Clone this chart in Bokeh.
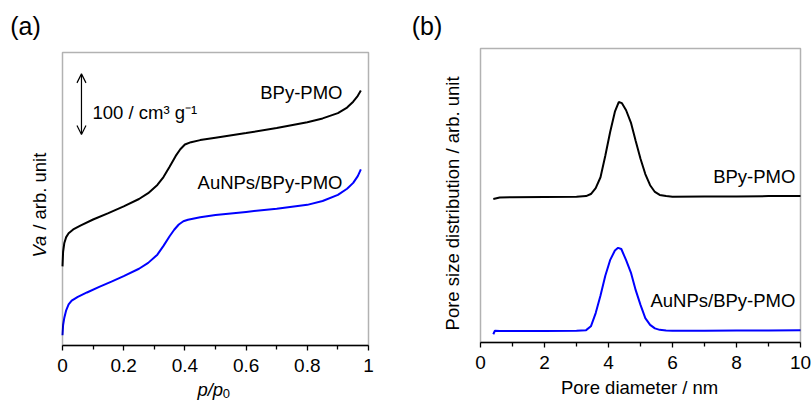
import math
from bokeh.plotting import figure
from bokeh.models import Range1d, FixedTicker, Label, Arrow, OpenHead, BoxAnnotation
from bokeh.layouts import row
from bokeh.embed import file_html
from bokeh.resources import INLINE

FONT = "Liberation Sans"

# ---------------- data: panel (a) nitrogen isotherms (arb. offset units) ----
pp0_bpy = [0, 0.002, 0.006, 0.012, 0.02, 0.035, 0.06, 0.1, 0.15, 0.2, 0.25, 0.28,
           0.31, 0.33, 0.35, 0.37, 0.385, 0.40, 0.42, 0.45, 0.5, 0.6, 0.7, 0.8,
           0.85, 0.9, 0.93, 0.95, 0.965, 0.975]
va_bpy = [27, 32, 35, 37, 38.3, 39.6, 41, 43, 45.2, 47.5, 50, 52, 54.8, 57.5, 61,
          64.7, 67, 68.6, 69.4, 70.1, 70.9, 72.5, 74.2, 76.2, 77.5, 79.3, 81.2,
          83.2, 85.2, 87]
pp0_au = [0, 0.002, 0.006, 0.012, 0.02, 0.03, 0.05, 0.08, 0.12, 0.16, 0.2, 0.25,
          0.28, 0.31, 0.33, 0.35, 0.365, 0.38, 0.395, 0.41, 0.45, 0.5, 0.6, 0.7,
          0.8, 0.85, 0.9, 0.93, 0.95, 0.965, 0.975]
va_au = [3.5, 7, 9.5, 12, 14, 15.3, 16.6, 18.1, 20, 21.8, 23.7, 26.2, 28.2, 31, 34,
         37.3, 39.5, 41.3, 42.4, 42.9, 43.8, 44.5, 45.6, 46.7, 48, 49.3, 51.4, 53.5,
         55.5, 57.8, 60.1]

# ---------------- data: panel (b) pore size distributions -------------------
d_bpy = [0.4, 0.6, 1, 2, 3, 3.3, 3.45, 3.6, 3.75, 3.9, 4.05, 4.2, 4.32, 4.42, 4.55,
         4.7, 4.85, 5.0, 5.15, 5.3, 5.45, 5.6, 5.8, 6.0, 7, 8, 9, 10]
psd_bpy = [48.8, 49.3, 49.4, 49.5, 49.6, 49.8, 50.5, 52.5, 56.2, 63.5, 71.5, 78.5,
           81.8, 81.4, 79.0, 74.8, 68.5, 62.5, 57.3, 53.5, 51.2, 50.2, 49.8, 49.6,
           49.7, 49.7, 49.8, 49.8]
d_au = [0.4, 0.45, 0.6, 1, 2, 3, 3.3, 3.45, 3.6, 3.75, 3.9, 4.05, 4.2, 4.3, 4.4,
        4.55, 4.7, 4.85, 5.0, 5.15, 5.3, 5.45, 5.6, 5.8, 6, 7, 8, 9, 10]
psd_au = [2.8, 4.0, 3.9, 3.9, 3.9, 4.0, 4.2, 5.5, 10, 16, 22.7, 28, 31.3, 32.2, 31.8,
          28, 23.8, 17.8, 12.8, 8.3, 6.0, 4.8, 4.3, 4.1, 4.0, 4.0, 4.1, 4.1, 4.2]

x_lim_a = (0, 1)
x_lim_b = (0, 10)
y_lim = (0, 100)
ticks_a = [0, 0.2, 0.4, 0.6, 0.8, 1]
tick_labels_a = ["0", "0.2", "0.4", "0.6", "0.8", "1"]
minor_a = [0.1, 0.3, 0.5, 0.7, 0.9]
ticks_b = [0, 2, 4, 6, 8, 10]
minor_b = [1, 3, 5, 7, 9]

name_bpy = "BPy-PMO"
name_au = "AuNPs/BPy-PMO"

H = 401  # canvas height


def make_panel(width, frame_px, x_lim, ticks, minor, overrides=None):
    """frame_px = (left, right, top, bottom) of the plot box in canvas pixels."""
    l, r, t, b = frame_px
    sx = (r - l) / (x_lim[1] - x_lim[0])
    sy = (b - t) / (y_lim[1] - y_lim[0])
    xr = Range1d(x_lim[0] - l / sx, x_lim[1] + (width - r) / sx)
    yr = Range1d(y_lim[0] - (H - b) / sy, y_lim[1] + t / sy)
    p = figure(width=width, height=H, output_backend="svg", toolbar_location=None,
               x_range=xr, y_range=yr, min_border=0, min_border_left=0,
               min_border_right=0, min_border_top=0, min_border_bottom=0)
    p.yaxis.visible = False
    p.xgrid.visible = False
    p.ygrid.visible = False
    p.outline_line_color = None
    p.background_fill_color = "white"
    p.border_fill_color = "white"
    ax = p.xaxis[0]
    ax.fixed_location = y_lim[0]
    ax.bounds = x_lim
    ax.ticker = FixedTicker(ticks=ticks, minor_ticks=minor)
    if overrides:
        ax.major_label_overrides = overrides
    ax.axis_line_color = "black"
    ax.axis_line_width = 1.5
    ax.major_tick_in = 0
    ax.major_tick_out = 5
    ax.minor_tick_in = 0
    ax.minor_tick_out = 4
    ax.major_tick_line_color = "black"
    ax.minor_tick_line_color = "black"
    ax.major_tick_line_width = 1.3
    ax.minor_tick_line_width = 1.3
    ax.major_label_text_font = FONT
    ax.major_label_text_font_size = "19px"
    ax.major_label_text_color = "black"
    ax.major_label_standoff = 8
    p.add_layout(BoxAnnotation(left=x_lim[0], right=x_lim[1], bottom=y_lim[0],
                               top=y_lim[1], fill_alpha=0, line_color="black",
                               line_width=1.5, level="overlay"))
    return p


def text(p, x, y, s, size="18.5px", align="left", baseline="middle", angle=0,
         style="normal"):
    p.add_layout(Label(x=x, y=y, text=s, text_align=align, text_baseline=baseline,
                       angle=angle, text_font=FONT, text_font_size=size,
                       text_font_style=style, text_color="black"))


# ---------------- panel (a) ----------------
pa = make_panel(400, (62, 368, 52, 345), x_lim_a, ticks_a, minor_a,
                dict(zip(ticks_a, tick_labels_a)))
pa.line(pp0_bpy, va_bpy, line_color="black", line_width=2)
pa.line(pp0_au, va_au, line_color="#0000ff", line_width=2)

text(pa, 0.915, 86.35, name_bpy, align="right")
text(pa, 0.915, 55.6, name_au, align="right")
pa.add_layout(Arrow(start=OpenHead(size=9, line_width=1.2),
                    end=OpenHead(size=9, line_width=1.2),
                    x_start=0.062, y_start=72.0, x_end=0.062, y_end=92.7,
                    line_width=1.2, line_color="black"))
text(pa, 0.098, 79.5, "100 / cm³ g⁻¹")
text(pa, -0.075, 30.0, "Va", angle=math.pi / 2, style="italic")
text(pa, -0.075, 39.5, "/ arb. unit", angle=math.pi / 2)
text(pa, 0.441, -15.0, "p/p", baseline="alphabetic", style="italic")
text(pa, 0.524, -16.5, "0", size="13px", baseline="alphabetic")
text(pa, -0.121, 109.2, "(a)", size="25px", align="center")

# ---------------- panel (b) ----------------
pb = make_panel(412, (80, 400, 48, 342), x_lim_b, ticks_b, minor_b)
pb.line(d_bpy, psd_bpy, line_color="black", line_width=2)
pb.line(d_au, psd_au, line_color="#0000ff", line_width=2)

text(pb, 9.84, 56.6, name_bpy, align="right")
text(pb, 9.84, 14.3, name_au, align="right")
text(pb, -0.89, 47.3, "Pore size distribution / arb. unit", align="center",
     angle=math.pi / 2)
text(pb, 4.97, -15.3, "Pore diameter / nm", align="center")
text(pb, -1.67, 107.7, "(b)", size="25px", align="center")

layout = row(pa, pb)
open("out.html", "w").write(file_html(layout, INLINE))
